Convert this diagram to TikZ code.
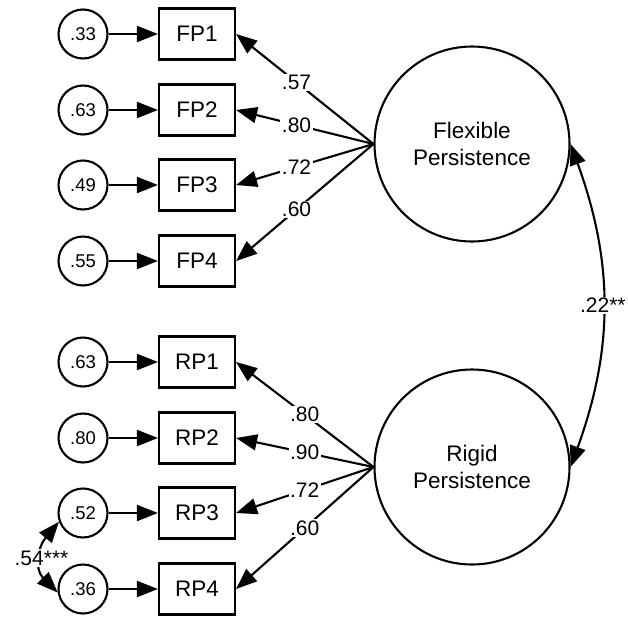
\documentclass[tikz,border=0pt]{standalone}
\usepackage{fontspec}
\setmainfont{Liberation Sans}
\usetikzlibrary{arrows.meta}
\begin{document}
\begin{tikzpicture}[x=1pt,y=1pt,
  every node/.style={inner sep=0pt},
  err/.style={circle,draw,line width=2.1pt,minimum size=49pt,font=\fontsize{18.5}{20}\selectfont},
  ind/.style={rectangle,draw,line width=2.1pt,minimum width=76pt,minimum height=51pt,font=\fontsize{22.5}{26}\selectfont},
  lat/.style={circle,draw,line width=2.1pt,minimum size=195pt,align=center,font=\fontsize{22.5}{27}\selectfont},
  tip/.tip={Triangle[length=21pt,width=16pt]},
  arr/.style={line width=2.1pt,-tip},
  dbl/.style={line width=2.1pt,tip-tip},
  lbl/.style={fill=white,inner sep=1.5pt,font=\fontsize{21}{24}\selectfont}
]
\useasboundingbox (0,0) rectangle (628,-616);

% latent factors
\node[lat] (F) at (472,-144) {Flexible\\Persistence};
\node[lat] (R) at (472,-467) {Rigid\\Persistence};

% indicators with their error terms
\foreach \n/\t/\e/\y in {fp1/FP1/.33/34, fp2/FP2/.63/110, fp3/FP3/.49/185, fp4/FP4/.55/261,
                         rp1/RP1/.63/362, rp2/RP2/.80/438, rp3/RP3/.52/513, rp4/RP4/.36/589}{
  \node[ind] (\n) at (197,-\y) {\t};
  \node[err] (e\n) at (83,-\y) {\e};
  \draw[arr] (e\n) -- (\n);
}

% factor loadings
\draw[arr] (F.west) -- node[lbl,pos=0.56] {.57} (fp1.east);
\draw[arr] (F.west) -- node[lbl,pos=0.56] {.80} (fp2.east);
\draw[arr] (F.west) -- node[lbl,pos=0.56] {.72} (fp3.east);
\draw[arr] (F.west) -- node[lbl,pos=0.56] {.60} (fp4.east);
\draw[arr] (R.west) -- node[lbl,pos=0.5] {.80} (rp1.east);
\draw[arr] (R.west) -- node[lbl,pos=0.5] {.90} (rp2.east);
\draw[arr] (R.west) -- node[lbl,pos=0.5] {.72} (rp3.east);
\draw[arr] (R.west) -- node[lbl,pos=0.5] {.60} (rp4.east);

% covariances
\draw[dbl] (F.east) to[out=-70,in=70] node[lbl] {.22**} (R.east);
\draw[dbl] (erp3.200) to[out=230,in=135,looseness=1.2] node[lbl] {.54***} (erp4.188);
\end{tikzpicture}
\end{document}
